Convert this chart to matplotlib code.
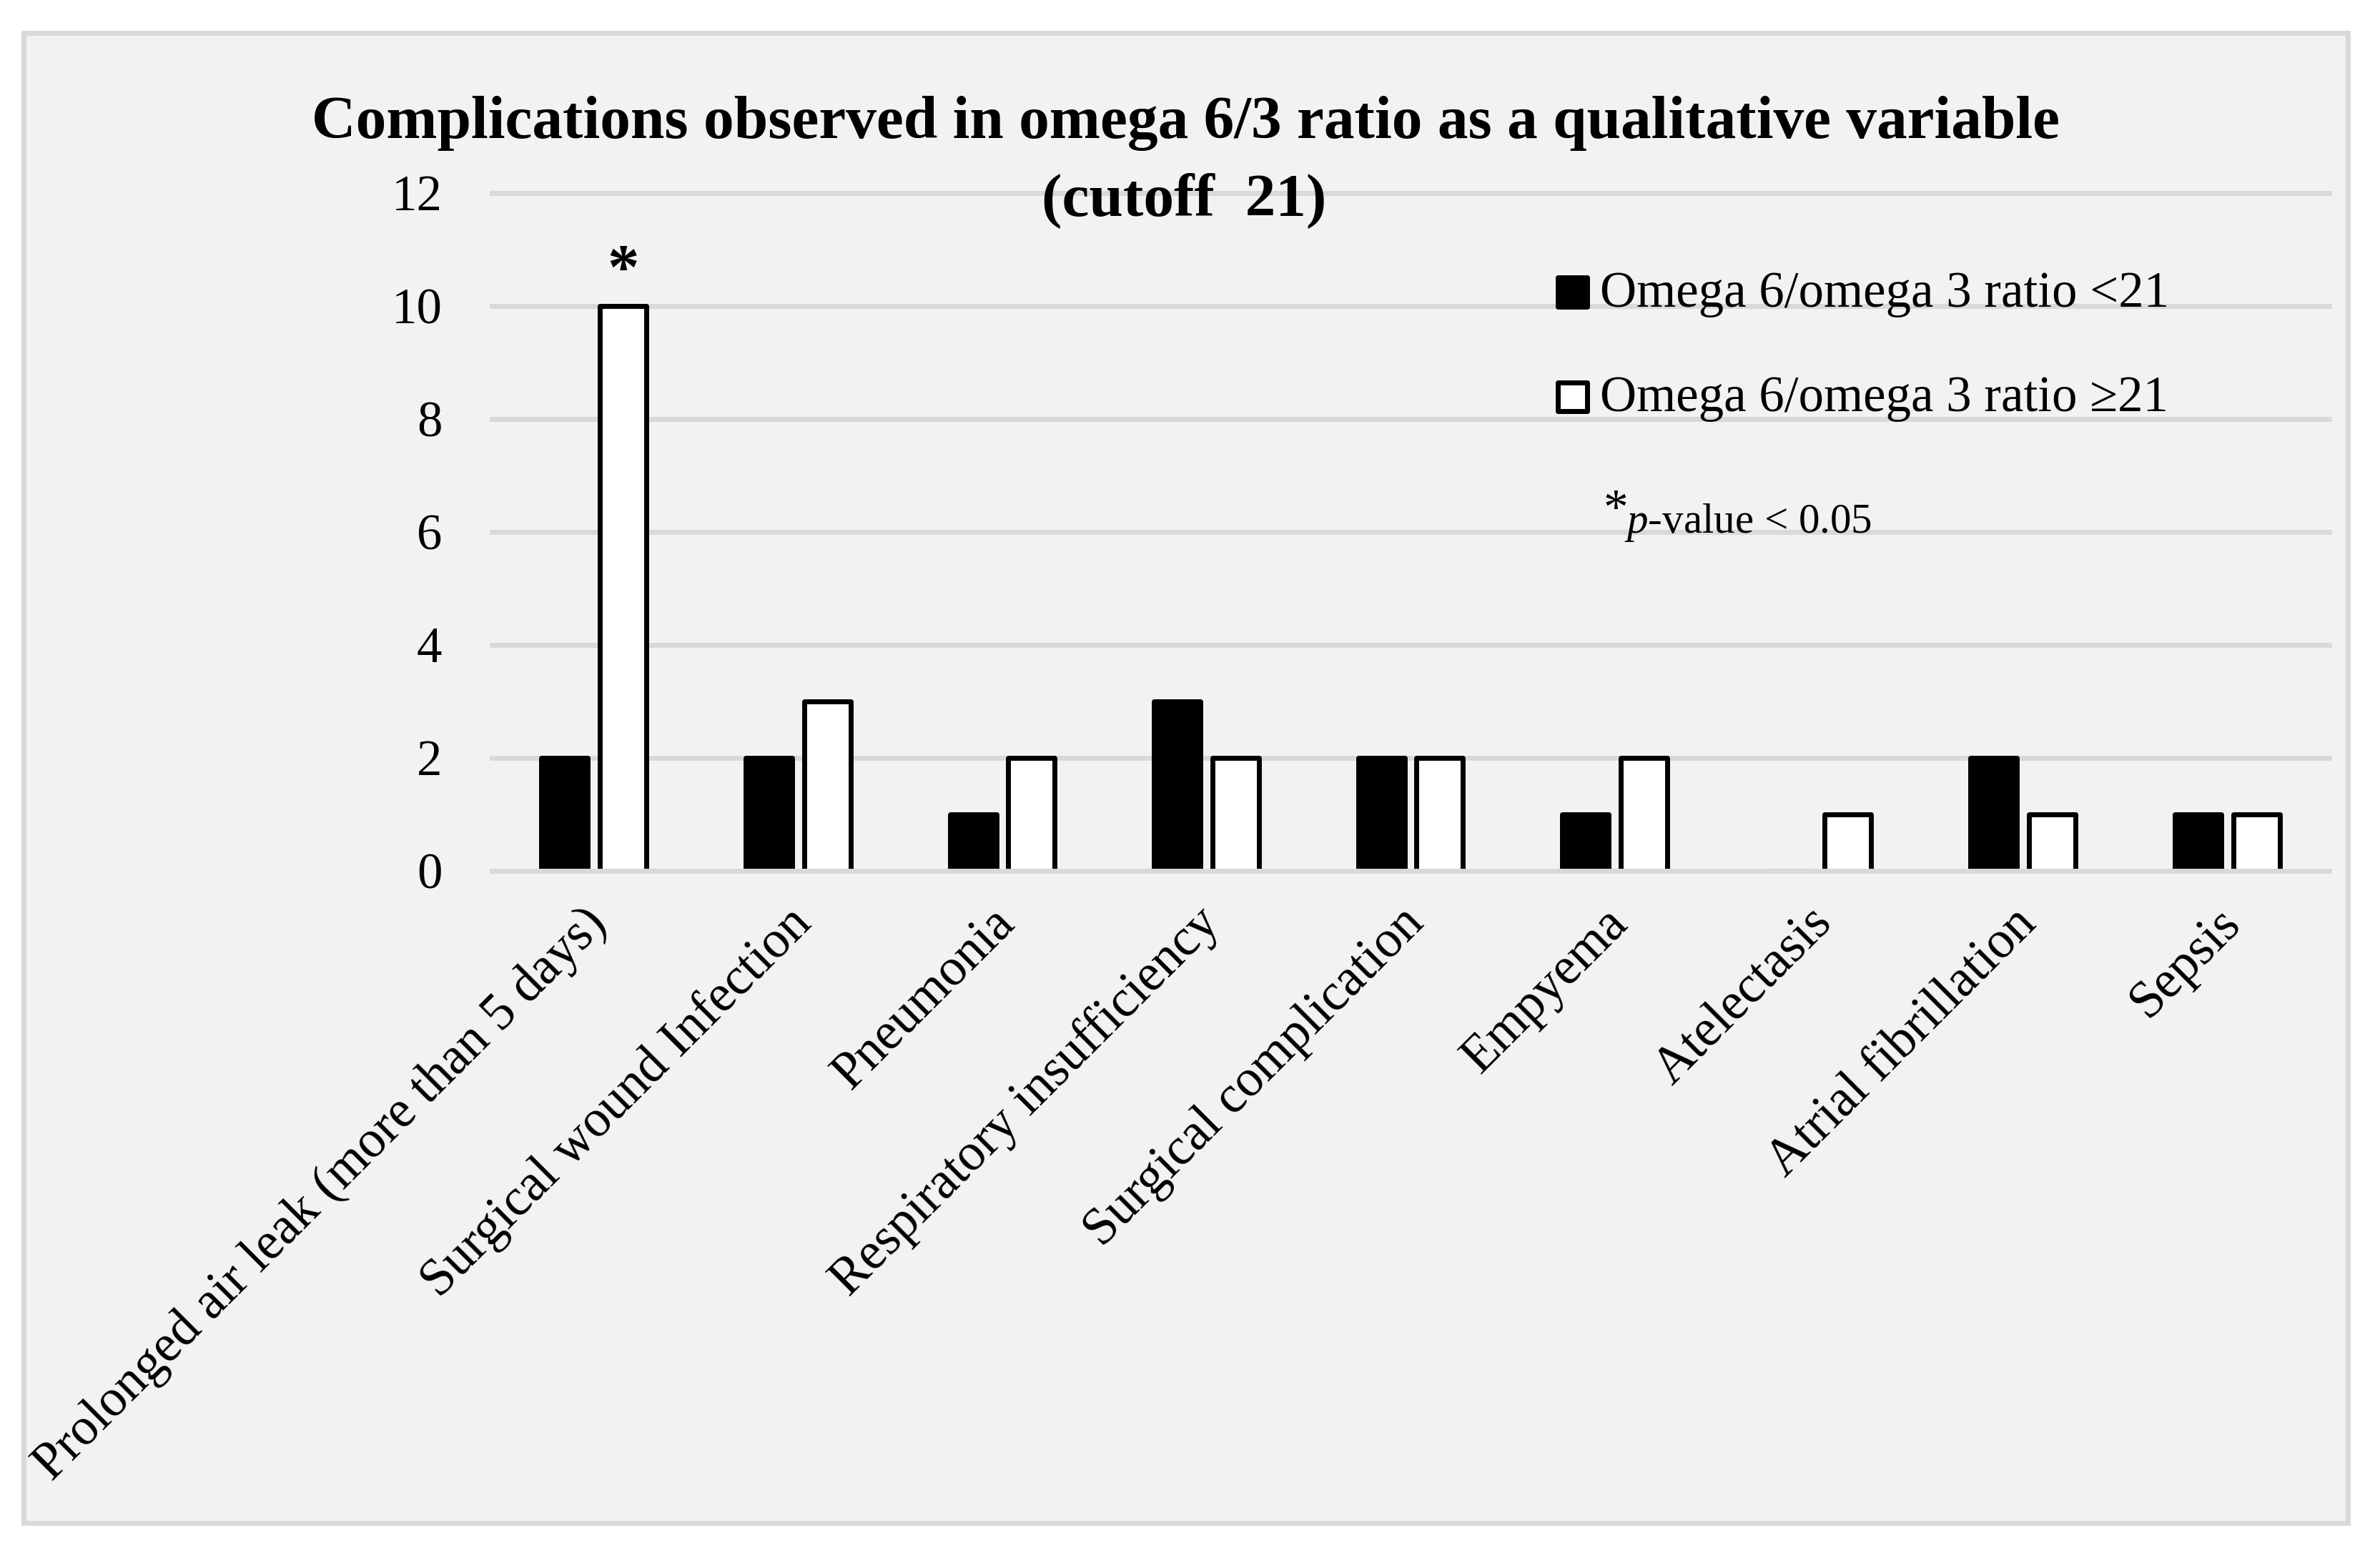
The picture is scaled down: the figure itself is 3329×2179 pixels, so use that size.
import matplotlib.pyplot as plt
from matplotlib.patches import Rectangle
from matplotlib.transforms import ScaledTranslation
import numpy as np

# Daten
categories = [
    "Prolonged air leak (more than 5 days)",
    "Surgical wound Infection",
    "Pneumonia",
    "Respiratory insufficiency",
    "Surgical complication",
    "Empyema",
    "Atelectasis",
    "Atrial fibrillation",
    "Sepsis",
]
ratio_below_21 = [2, 2, 1, 3, 2, 1, 0, 2, 1]
ratio_above_21 = [10, 3, 2, 2, 2, 2, 1, 1, 1]
y_ticks = [0, 2, 4, 6, 8, 10, 12]
legend_labels = ["Omega 6/omega 3 ratio <21", "Omega 6/omega 3 ratio \u226521"]
title_lines = ["Complications observed in omega 6/3 ratio as a qualitative variable",
               "(cutoff  21)"]

W, H = 3329, 2179
plt.rcParams["font.family"] = ["Liberation Serif", "DejaVu Serif"]
plt.rcParams["mathtext.fontset"] = "custom"
plt.rcParams["mathtext.rm"] = "Liberation Serif"
plt.rcParams["mathtext.it"] = "Liberation Serif:italic"

GRID = "#D9D9D9"
BG = "#F2F2F2"


def fx(px):
    return px / W


def fy(py):
    return 1 - py / H


fig = plt.figure(figsize=(W / 100, H / 100), dpi=100)
fig.patch.set_facecolor("white")

# grauer Rahmen um das ganze Diagramm
frame = Rectangle((fx(32.5), fy(2129.5)), fx(3283.5) - fx(32.5), fy(45.5) - fy(2129.5),
                  transform=fig.transFigure, facecolor=BG, edgecolor=GRID,
                  linewidth=5.0, zorder=-1)
fig.patches.append(frame)

ax = fig.add_axes([fx(688), fy(1217.5), fx(3258) - fx(688), fy(269.5) - fy(1217.5)])
ax.set_facecolor("none")
ax.set_zorder(1)

x = np.arange(len(categories))
bw = 0.228
off = 0.143
ax.bar(x - off, ratio_below_21, width=bw, color="black", edgecolor="black",
       linewidth=5.0, joinstyle="round", zorder=2)
ax.bar(x + off, ratio_above_21, width=bw, color="white", edgecolor="black",
       linewidth=5.0, joinstyle="round", zorder=2)

ax.set_xlim(-0.5, len(categories) - 0.5)
ax.set_ylim(0, 12)
ax.set_yticks(y_ticks)
ax.yaxis.grid(True, color=GRID, linewidth=5.0)
for gl in ax.get_ygridlines():
    gl.set_clip_on(False)
ax.set_axisbelow(True)
ax.axhline(0, color=GRID, linewidth=5.0, zorder=3, clip_on=False)
for s in ax.spines.values():
    s.set_visible(False)

ax.tick_params(axis="y", length=0, pad=50, labelsize=51)
ax.set_xticks(x)
ax.set_xticklabels(categories, rotation=45, ha="right", va="center",
                   rotation_mode="anchor", fontsize=52.5)
ax.tick_params(axis="x", length=0, pad=46)
# Beschriftungen ein kleines Stück nach rechts
shift = ScaledTranslation(8 / 100, 0, fig.dpi_scale_trans)
for lbl in ax.get_xticklabels():
    lbl.set_transform(lbl.get_transform() + shift)

# Signifikanz-Stern über dem höchsten Balken
ax.annotate("*", xy=(x[0] + off, ratio_above_21[0]), xytext=(0, 5),
            textcoords="offset points", ha="center", va="bottom", fontsize=64,
            fontweight="bold")

# Titel (zwei Zeilen)
fig.text(fx(1658), fy(193), title_lines[0], ha="center", va="baseline",
         fontsize=61.5, fontweight="bold")
fig.text(fx(1656), fy(302), title_lines[1], ha="center", va="baseline",
         fontsize=61.5, fontweight="bold")

# Legende von Hand
for i, (lab, fc) in enumerate(zip(legend_labels, ["black", "white"])):
    cy = 408.5 + i * 146.5
    sq = Rectangle((fx(2179), fy(cy + 20)), fx(2220) - fx(2179), fy(cy - 20) - fy(cy + 20),
                   transform=fig.transFigure, facecolor=fc, edgecolor="black",
                   linewidth=5.0, joinstyle="round", zorder=5)
    fig.patches.append(sq)
    fig.text(fx(2238), fy(cy + 20.5), lab, ha="left", va="baseline", fontsize=51)

fig.text(fx(2243), fy(684), "*", ha="left", va="top", fontsize=50)
fig.text(fx(2272), fy(745), r"$\mathit{p}$-value < 0.05", ha="left", va="baseline",
         fontsize=42.5)

fig.savefig("out.png", dpi=100)
